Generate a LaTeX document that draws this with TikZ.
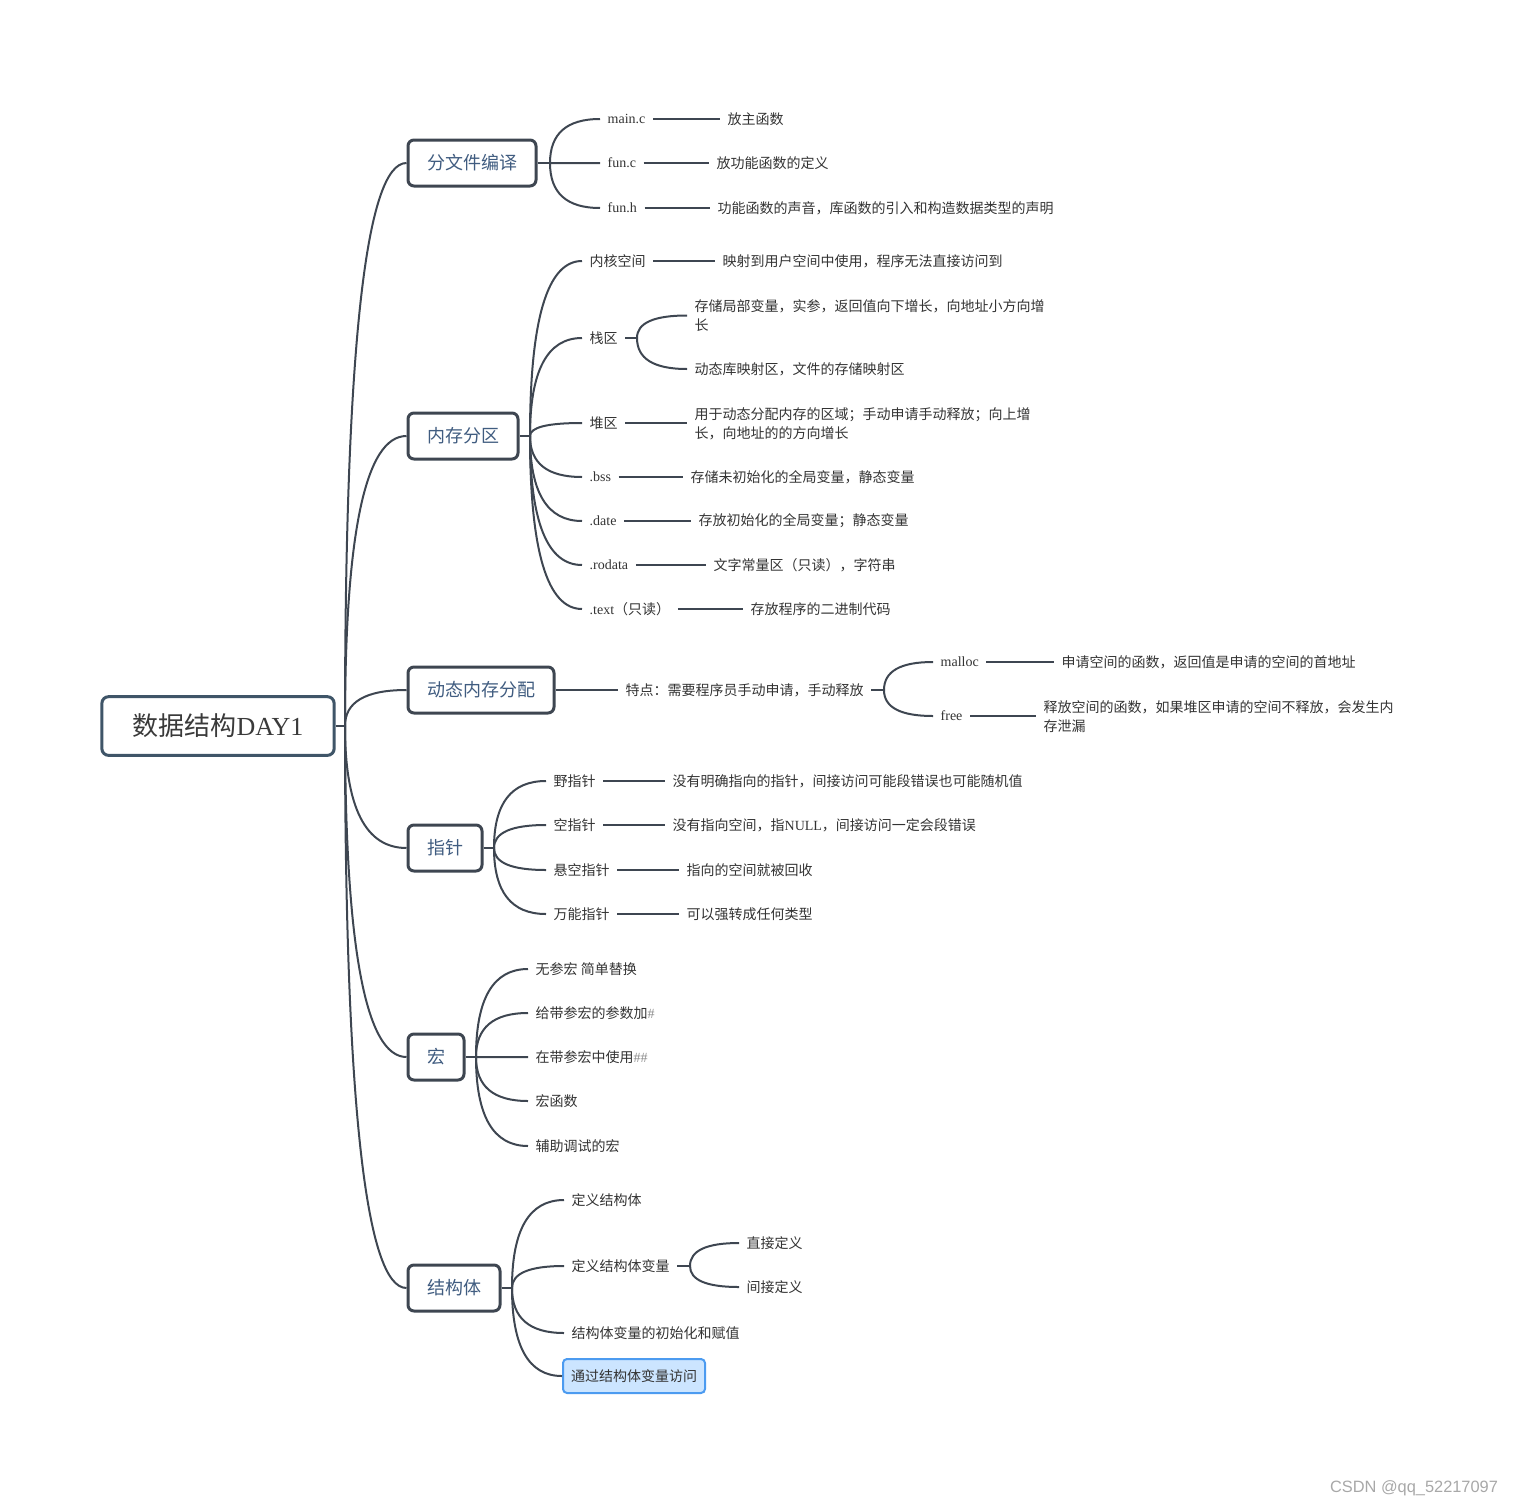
\documentclass[tikz,border=0pt]{standalone}
\usepackage{fontspec}
\usetikzlibrary{calc}
\setmainfont{Liberation Serif}
\newfontfamily\zh{Noto Sans CJK SC}
\newfontfamily\wm{Liberation Sans}
\newcommand{\entext}[1]{{\rmfamily #1}}

\definecolor{linegray}{HTML}{3E4651}
\definecolor{rootline}{HTML}{3F5568}
\definecolor{roottext}{HTML}{3A3A3A}
\definecolor{branchtext}{HTML}{405C80}
\definecolor{leaftext}{HTML}{333333}
\definecolor{hashgray}{HTML}{8A8A8A}
\definecolor{selfill}{HTML}{CCE5FF}
\definecolor{selline}{HTML}{4C9BF0}
\definecolor{wmgray}{HTML}{A8A8A8}

\begin{document}
\begin{tikzpicture}[
                x=.75pt,y=-.75pt,
                line width=1.5pt,
                rootbox/.style={draw=rootline,line width=2.25pt,rounded corners=5pt,fill=white,
                    text=roottext,font=\zh\fontsize{19.5}{23}\selectfont,
                    inner xsep=23pt,minimum height=44pt},
                branch/.style={draw=linegray,line width=2.25pt,rounded corners=4.5pt,fill=white,
                    text=branchtext,font=\zh\fontsize{13.5}{16}\selectfont,
                    inner xsep=14.25pt,minimum height=34.5pt},
                leaf/.style={anchor=west,inner xsep=5pt,inner ysep=2pt,align=left,
                    text=leaftext,font=\zh\fontsize{10.5}{14.25}\selectfont},
                picked/.style={draw=selline,line width=1.5pt,rounded corners=3pt,fill=selfill,
                    text=leaftext,font=\zh\fontsize{10.5}{14.25}\selectfont,
                    inner xsep=6pt,minimum height=25.5pt},
                link/.style={draw=linegray,line width=1.5pt},
                curvy/.style={to path={.. controls ($(\tikztostart)!.667!(\tikztostart |- \tikztotarget)$)
                    and ($(\tikztotarget)!.667!(\tikztostart |- \tikztotarget)$) .. (\tikztotarget)}}
                ]

\useasboundingbox (0,0) rectangle (1514,1506);

% root
\node[rootbox] (Root) at (218,726) {数据结构\entext{DAY1}};
\coordinate (RootFork) at (345,726);
\draw[link] (Root) -- (RootFork);

                    % 1 分文件编译
                    \node[branch] (Compile) at (472,163) {分文件编译};
                    \coordinate (CompileFork) at (550,163);
                    \node[leaf] (MainC) at (600,119) {\entext{main.c}};
                    \node[leaf] (FunC) at (600,163) {\entext{fun.c}};
                    \node[leaf] (FunH) at (600,208) {\entext{fun.h}};
                    \node[leaf] (MainCText) at (720,119) {放主函数};
                    \node[leaf] (FunCText) at (709,163) {放功能函数的定义};
                    \node[leaf] (FunHText) at (710,208) {功能函数的声音，库函数的引入和构造数据类型的声明};

                    \draw[link] (RootFork) to[curvy] (Compile.west);
                    \draw[link] (Compile) -- (CompileFork);
                    \draw[link] (CompileFork) to[curvy] (MainC.west);
                    \draw[link] (CompileFork) to[curvy] (FunC.west);
                    \draw[link] (CompileFork) to[curvy] (FunH.west);
                    \draw[link] (MainC.east) -- (MainC.east -| MainCText.west);
                    \draw[link] (FunC.east) -- (FunC.east -| FunCText.west);
                    \draw[link] (FunH.east) -- (FunH.east -| FunHText.west);


                    % 2 内存分区
                    \node[branch] (Memory) at (463,436) {内存分区};
                    \coordinate (MemoryFork) at (530,436);
                    \node[leaf] (Kernel) at (582,261) {内核空间};
                    \node[leaf] (Stack) at (582,338) {栈区};
                    \node[leaf] (Heap) at (582,423) {堆区};
                    \node[leaf] (Bss) at (582,477) {\entext{.bss}};
                    \node[leaf] (Data) at (582,521) {\entext{.date}};
                    \node[leaf] (Rodata) at (582,565) {\entext{.rodata}};
                    \node[leaf] (Text) at (582,609) {\entext{.text}（只读）};

                    \node[leaf] (KernelText) at (715,261) {映射到用户空间中使用，程序无法直接访问到};
                    \coordinate (StackFork) at (637,338);
                    \node[leaf] (StackDown) at (687,315.5) {存储局部变量，实参，返回值向下增长，向地址小方向增\\长};
                    \node[leaf] (StackMap) at (687,369) {动态库映射区，文件的存储映射区};
                    \node[leaf] (HeapText) at (687,423.5) {用于动态分配内存的区域；手动申请手动释放；向上增\\长，向地址的的方向增长};
                    \node[leaf] (BssText) at (683,477) {存储未初始化的全局变量，静态变量};
                    \node[leaf] (DataText) at (691,521) {存放初始化的全局变量；静态变量};
                    \node[leaf] (RodataText) at (706,565) {文字常量区（只读），字符串};
                    \node[leaf] (TextText) at (743,609) {存放程序的二进制代码};

                    \draw[link] (RootFork) to[curvy] (Memory.west);
                    \draw[link] (Memory) -- (MemoryFork);
                    \draw[link] (MemoryFork) to[curvy] (Kernel.west);
                    \draw[link] (MemoryFork) to[curvy] (Stack.west);
                    \draw[link] (MemoryFork) to[curvy] (Heap.west);
                    \draw[link] (MemoryFork) to[curvy] (Bss.west);
                    \draw[link] (MemoryFork) to[curvy] (Data.west);
                    \draw[link] (MemoryFork) to[curvy] (Rodata.west);
                    \draw[link] (MemoryFork) to[curvy] (Text.west);
                    \draw[link] (Kernel.east) -- (Kernel.east -| KernelText.west);
                    \draw[link] (Stack) -- (StackFork);
                    \draw[link] (StackFork) to[curvy] (StackDown.west);
                    \draw[link] (StackFork) to[curvy] (StackMap.west);
                    \draw[link] (Heap.east) -- (Heap.east -| HeapText.west);
                    \draw[link] (Bss.east) -- (Bss.east -| BssText.west);
                    \draw[link] (Data.east) -- (Data.east -| DataText.west);
                    \draw[link] (Rodata.east) -- (Rodata.east -| RodataText.west);
                    \draw[link] (Text.east) -- (Text.east -| TextText.west);


                    % 3 动态内存分配
                    \node[branch] (Dynamic) at (481,690) {动态内存分配};
                    \node[leaf] (Feature) at (618,690) {特点：需要程序员手动申请，手动释放};
                    \coordinate (FeatureFork) at (884,690);
                    \node[leaf] (Malloc) at (933,662) {\entext{malloc}};
                    \node[leaf] (Free) at (933,716) {\entext{free}};
                    \node[leaf] (MallocText) at (1054,662) {申请空间的函数，返回值是申请的空间的首地址};
                    \node[leaf] (FreeText) at (1036,717) {释放空间的函数，如果堆区申请的空间不释放，会发生内\\存泄漏};

                    \draw[link] (RootFork) to[curvy] (Dynamic.west);
                    \draw[link] (Dynamic.east) -- (Feature.west);
                    \draw[link] (Feature) -- (FeatureFork);
                    \draw[link] (FeatureFork) to[curvy] (Malloc.west);
                    \draw[link] (FeatureFork) to[curvy] (Free.west);
                    \draw[link] (Malloc.east) -- (Malloc.east -| MallocText.west);
                    \draw[link] (Free.east) -- (Free.east -| FreeText.west);


                    % 4 指针
                    \node[branch] (Pointer) at (445,848) {指针};
                    \coordinate (PointerFork) at (494,848);
                    \node[leaf] (Wild) at (546,781) {野指针};
                    \node[leaf] (Null) at (546,825) {空指针};
                    \node[leaf] (Dangling) at (546,870) {悬空指针};
                    \node[leaf] (Generic) at (546,914) {万能指针};
                    \node[leaf] (WildText) at (665,781) {没有明确指向的指针，间接访问可能段错误也可能随机值};
                    \node[leaf] (NullText) at (665,825) {没有指向空间，指\entext{NULL}，间接访问一定会段错误};
                    \node[leaf] (DanglingText) at (679,870) {指向的空间就被回收};
                    \node[leaf] (GenericText) at (679,914) {可以强转成任何类型};

                    \draw[link] (RootFork) to[curvy] (Pointer.west);
                    \draw[link] (Pointer) -- (PointerFork);
                    \draw[link] (PointerFork) to[curvy] (Wild.west);
                    \draw[link] (PointerFork) to[curvy] (Null.west);
                    \draw[link] (PointerFork) to[curvy] (Dangling.west);
                    \draw[link] (PointerFork) to[curvy] (Generic.west);
                    \draw[link] (Wild.east) -- (Wild.east -| WildText.west);
                    \draw[link] (Null.east) -- (Null.east -| NullText.west);
                    \draw[link] (Dangling.east) -- (Dangling.east -| DanglingText.west);
                    \draw[link] (Generic.east) -- (Generic.east -| GenericText.west);


                    % 5 宏
                    \node[branch] (Macro) at (436,1057) {宏};
                    \coordinate (MacroFork) at (476,1057);
                    \node[leaf] (MacroA) at (528,969) {无参宏 简单替换};
                    \node[leaf] (MacroB) at (528,1013) {给带参宏的参数加{\color{hashgray}\entext{\#}}};
                    \node[leaf] (MacroC) at (528,1057) {在带参宏中使用{\color{hashgray}\entext{\#\#}}};
                    \node[leaf] (MacroD) at (528,1101) {宏函数};
                    \node[leaf] (MacroE) at (528,1146) {辅助调试的宏};

                    \draw[link] (RootFork) to[curvy] (Macro.west);
                    \draw[link] (Macro) -- (MacroFork);
                    \draw[link] (MacroFork) to[curvy] (MacroA.west);
                    \draw[link] (MacroFork) to[curvy] (MacroB.west);
                    \draw[link] (MacroFork) to[curvy] (MacroC.west);
                    \draw[link] (MacroFork) to[curvy] (MacroD.west);
                    \draw[link] (MacroFork) to[curvy] (MacroE.west);


                    % 6 结构体
                    \node[branch] (Struct) at (454,1288) {结构体};
                    \coordinate (StructFork) at (512,1288);
                    \node[leaf] (StructDef) at (564,1200) {定义结构体};
                    \node[leaf] (StructVar) at (564,1266) {定义结构体变量};
                    \coordinate (StructVarFork) at (690,1266);
                    \node[leaf] (VarDirect) at (739,1243) {直接定义};
                    \node[leaf] (VarIndirect) at (739,1287) {间接定义};
                    \node[leaf] (StructInit) at (564,1333) {结构体变量的初始化和赋值};
                    \node[picked] (StructAccess) at (634,1376) {通过结构体变量访问};

                    \draw[link] (RootFork) to[curvy] (Struct.west);
                    \draw[link] (Struct) -- (StructFork);
                    \draw[link] (StructFork) to[curvy] (StructDef.west);
                    \draw[link] (StructFork) to[curvy] (StructVar.west);
                    \draw[link] (StructVar) -- (StructVarFork);
                    \draw[link] (StructVarFork) to[curvy] (VarDirect.west);
                    \draw[link] (StructVarFork) to[curvy] (VarIndirect.west);
                    \draw[link] (StructFork) to[curvy] (StructInit.west);
                    \draw[link] (StructFork) to[curvy] (StructAccess.west);


 % watermark
                    \node[font=\wm\fontsize{12.3}{14}\selectfont,text=wmgray] (Watermark) at (1414,1488) {CSDN @qq\_52217097};

                    \end{tikzpicture}
\end{document}
